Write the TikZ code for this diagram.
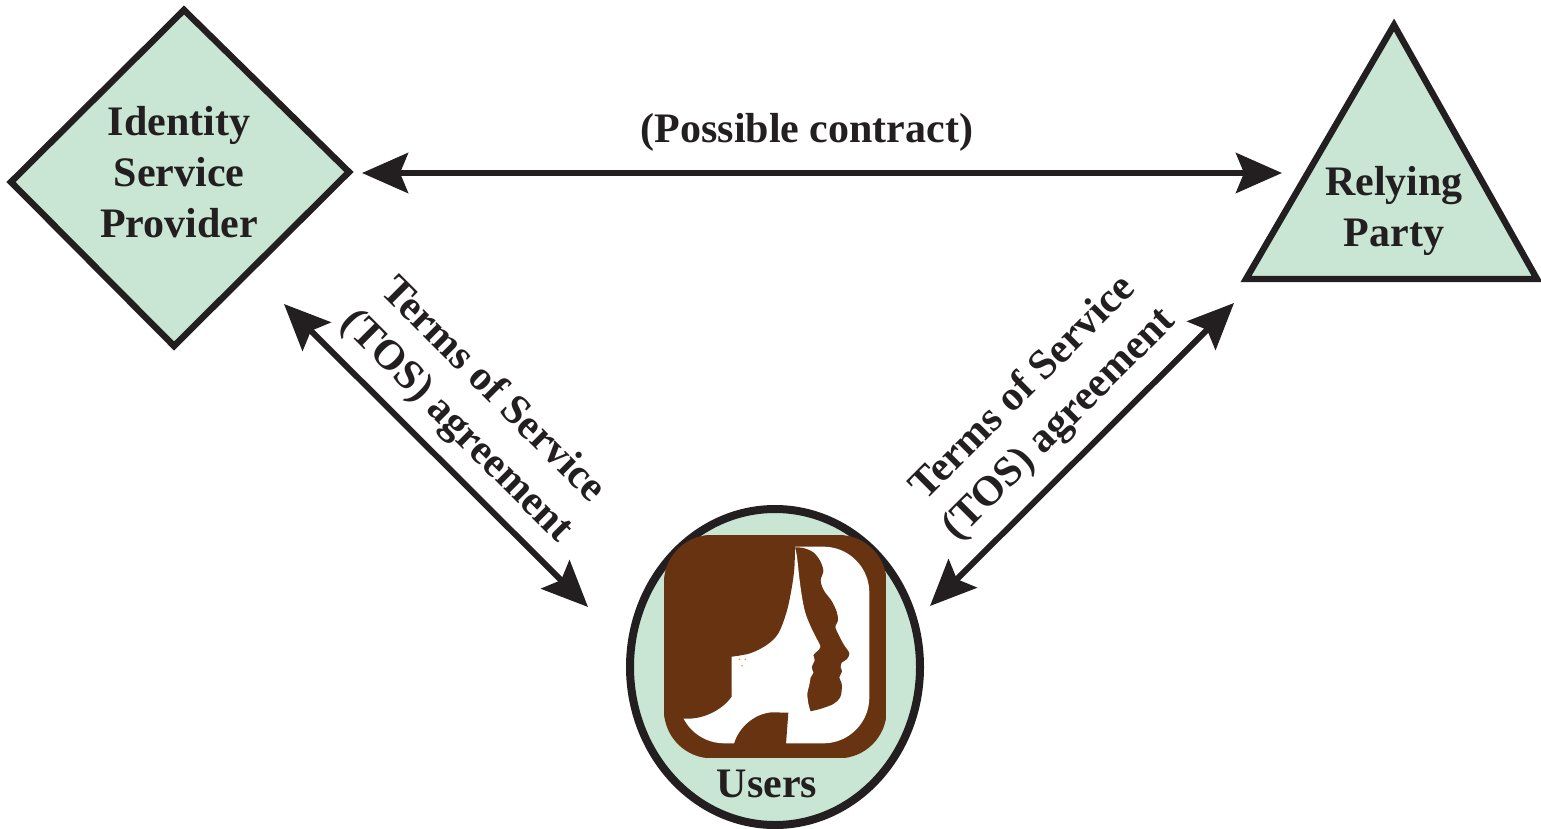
\documentclass[tikz,border=0pt]{standalone}
\usepackage{fontspec}
\setmainfont{Liberation Serif}
\usetikzlibrary{arrows.meta,shapes.geometric}
\definecolor{fillgreen}{HTML}{C9E5D4}
\definecolor{edge}{HTML}{231F20}
\definecolor{hair}{HTML}{673311}
\definecolor{gold}{HTML}{F7A31C}
\tikzset{
  shapeline/.style={draw=edge, line width=3.2pt, fill=fillgreen, line join=miter},
  lbl/.style={font=\fontsize{21}{25.5}\selectfont\bfseries, text=edge, align=center, inner sep=0pt},
  link/.style={draw=edge, line width=3pt, {Stealth[length=23pt,width=20pt,inset=4pt]}-{Stealth[length=23pt,width=20pt,inset=4pt]}}
}
\begin{document}
\begin{tikzpicture}[x=0.5pt,y=-0.5pt]
\useasboundingbox (0,0) rectangle (1541,829);
% Identity Service Provider diamond
\coordinate (ispL) at (11,182);
\coordinate (ispT) at (184,10);
\coordinate (ispR) at (349,172);
\coordinate (ispB) at (174,346);
\path[shapeline] (ispL) -- (ispT) -- (ispR) -- (ispB) -- cycle;
\node[lbl] (isp) at (179,172) {Identity\\Service\\Provider};
% Relying party triangle
\coordinate (rpT) at (1394,25);
\coordinate (rpL) at (1246,279);
\coordinate (rpR) at (1537,279);
\path[shapeline] (rpT) -- (rpR) -- (rpL) -- cycle;
\node[lbl] (rp) at (1394,211) {Relying\\Party};
% Users ellipse
\node[ellipse, draw=edge, line width=4pt, fill=fillgreen, minimum width=145pt, minimum height=158pt, inner sep=0pt] (users) at (775,667) {};
\node[lbl] (userslbl) at (767,784) {Users};
% icon
\begin{scope}[shift={(660,530)}, scale=1/3]
  \begin{scope}
  \clip[rounded corners=24pt] (12,15) rectangle (680,685);
  \fill[hair] (12,15) rectangle (680,685);
  \fill[white, rounded corners=23pt] (55,50) rectangle (628,640);
  % man silhouette
  \fill[hair] plot[smooth, tension=0.55] coordinates {(405,52) (430,54) (460,67) (480,92) (490,122) (482,152) (492,182) (515,213) (530,245) (534,272) (526,290) (536,315) (552,345) (568,370) (560,388) (545,398) (542,412) (546,425) (538,442) (545,460) (545,482) (540,503) (520,522) (480,537) (450,544)} -- (405,546) -- cycle;
  % woman face
  \fill[white] plot[smooth, tension=0.55] coordinates {(405,52) (411,80) (417,135) (425,195) (435,245) (450,285) (468,322) (481,350) (472,363) (460,375) (464,390) (455,412) (460,428) (452,442) (448,465) (442,490) (445,520) (452,546)} -- (215,546) -- (215,52) -- cycle;
  % hair
  \fill[hair] (0,0) -- (405,0) -- plot[smooth, tension=0.55] coordinates {(405,52) (403,115) (395,175) (380,245) (355,310) (320,345) (270,370) (215,380)}
    -- (215,500) .. controls (190,535) and (140,565) .. (85,566)
    -- (0,566) -- cycle;
  % shoulder
  \fill[hair] (222,642) .. controls (235,595) and (280,552) .. (335,547)
    -- (385,548) -- (378,642) -- cycle;
  \end{scope}
  % earring
  \fill[gold] (238,388) circle[radius=1.35pt] (256,388) circle[radius=1.35pt] (246,407) circle[radius=1.35pt];
\end{scope}
% connector end points
\coordinate (c1a) at (362,173);
\coordinate (c1b) at (1282,173);
\coordinate (c2a) at (284,304);
\coordinate (c2b) at (588,607);
\coordinate (c3a) at (1234,303);
\coordinate (c3b) at (930,606);
\draw[link] (c1a) -- (c1b);
\draw[link] (c2a) -- (c2b);
\draw[link] (c3a) -- (c3b);
\node[lbl] (contract) at (807,132) {(Possible contract)};
\node[lbl, rotate=-45] (tosL) at (474,409) {Terms of Service\\(TOS) agreement};
\node[lbl, rotate=45] (tosR) at (1042,407) {Terms of Service\\(TOS) agreement};
\end{tikzpicture}
\end{document}
